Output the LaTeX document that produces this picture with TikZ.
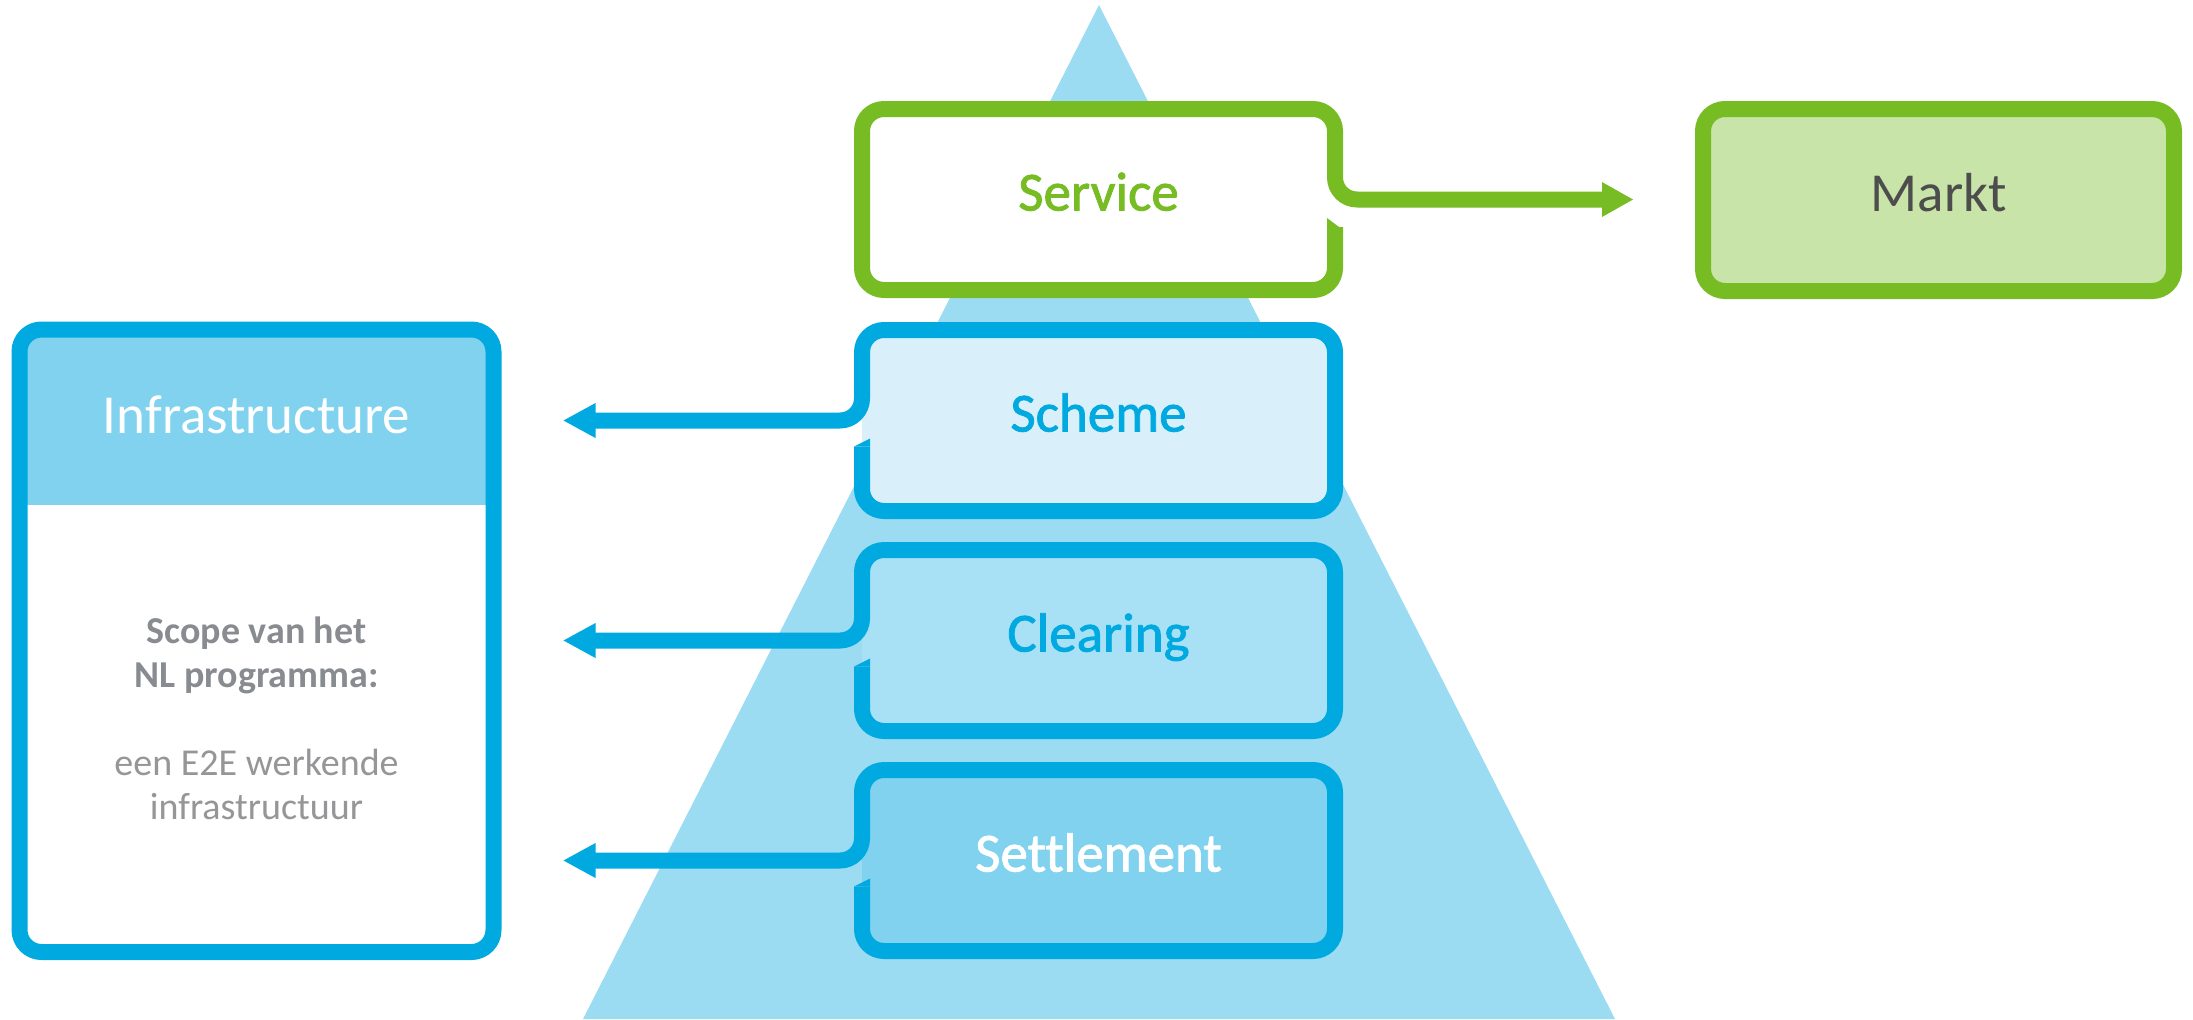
\documentclass[tikz,border=0pt]{standalone}
\usepackage{fontspec}
\setmainfont[Ligatures=NoCommon]{Carlito}
\newfontfamily\labelfont[FakeBold=1.5,Ligatures=NoCommon]{Carlito}
\usetikzlibrary{calc}
\definecolor{cblue}{RGB}{0,169,224}
\definecolor{ctri}{RGB}{156,220,243}
\definecolor{cscheme}{RGB}{217,240,250}
\definecolor{cclear}{RGB}{168,224,245}
\definecolor{csettle}{RGB}{128,210,239}
\definecolor{cgreen}{RGB}{118,188,34}
\definecolor{cmarkt}{RGB}{200,228,168}
\definecolor{cmarkttext}{RGB}{77,77,77}
\definecolor{cgraybold}{RGB}{136,139,144}
\definecolor{cgray}{RGB}{150,150,152}
\begin{document}
\begin{tikzpicture}[x=0.5pt,y=-0.5pt,
  layerbox/.style={minimum width=236.5pt, minimum height=90.5pt, inner sep=0pt, outer sep=0pt,
    rounded corners=11pt, text height=16.5pt, text depth=5.5pt,
    font=\fontsize{27.5}{33}\labelfont},
  bluestroke/.style={draw=cblue, line width=8pt, rounded corners=11pt, line cap=butt, line join=round},
  greenstroke/.style={draw=cgreen, line width=8pt, rounded corners=11pt, line cap=butt, line join=round}]
\useasboundingbox (0,0) rectangle (2193,1019);
% pyramid
\fill[ctri] (583,1019) -- (1099,5) -- (1615,1019) -- cycle;
% layer boxes
\node[layerbox, fill=white, text=cgreen] (service) at (1098.5,199.5) {Service};
\node[layerbox, fill=cscheme, text=cblue] (scheme) at (1098.5,420.5) {Scheme};
\node[layerbox, fill=cclear, text=cblue] (clearing) at (1098.5,640.5) {Clearing};
\node[layerbox, fill=csettle, text=white] (settlement) at (1098.5,860.5) {Settlement};
% markt
\node[layerbox, minimum width=235.5pt, minimum height=91pt, fill=cmarkt, draw=cgreen, line width=8pt,
  text=cmarkttext, font=\fontsize{27.5}{33}\selectfont] (markt) at (1938.5,200) {Markt};
% infrastructure
\node[minimum width=237pt, minimum height=311.25pt, inner sep=0pt, outer sep=0pt, rounded corners=11pt,
  fill=white] (infra) at (256.5,640.75) {};
\begin{scope}
  \clip[rounded corners=11pt] (infra.north west) rectangle (infra.south east);
  \fill[csettle] (infra.north west) rectangle ($(infra.north east)+(0,175)$);
\end{scope}
\draw[bluestroke] (infra.north west) rectangle (infra.south east);
\node[anchor=base, text=white, font=\fontsize{27.5}{33}\selectfont, inner sep=0pt] (infrahead)
  at ($(infra.north)+(0,103.5)$) {Infrastructure};
\node[anchor=base, inner sep=0pt, font=\fontsize{19}{22}\selectfont] (infrabody)
  at ($(infra.north)+(0,313.5)$)
  {\begin{tabular}[t]{@{}c@{}}
   \color{cgraybold}\bfseries Scope van het\\
   \color{cgraybold}\bfseries NL programma:\\
   \\
   \color{cgray}een E2E werkende\\
   \color{cgray}infrastructuur
   \end{tabular}};
% connector end points
\coordinate (serviceTip) at ($(markt.west|-service.east)+(-70,0)$);
\coordinate (schemeTip) at ($(infra.east|-scheme.west)+(70,0)$);
\coordinate (clearingTip) at ($(infra.east|-clearing.west)+(70,0)$);
\coordinate (settlementTip) at ($(infra.east|-settlement.west)+(70,0)$);
% service outline + connector
\draw[greenstroke] ($(service.east)+(0,27.5)$) -- (service.south east) -- (service.south west)
  -- (service.north west) -- (service.north east) -- (service.east) -- ($(serviceTip)+(-29,0)$);
\fill[cgreen] ($(service.east)+(4,27.5)$) -- ($(service.east)+(-8,27.5)$) -- ($(service.east)+(-8,18.5)$) -- cycle;
\fill[cgreen] (serviceTip) -- ($(serviceTip)+(-31,-17.5)$) -- ($(serviceTip)+(-31,17.5)$) -- cycle;
% blue outlines + connectors
\foreach \b/\t in {scheme/schemeTip, clearing/clearingTip, settlement/settlementTip}{
  \draw[bluestroke] ($(\b.west)+(0,26)$) -- (\b.south west) -- (\b.south east)
    -- (\b.north east) -- (\b.north west) -- (\b.west) -- ($(\t)+(30,0)$);
  \fill[cblue] ($(\b.west)+(-8,26)$) -- ($(\b.west)+(8,26)$) -- ($(\b.west)+(8,18)$) -- cycle;
  \fill[cblue] (\t) -- ($(\t)+(32,-17.5)$) -- ($(\t)+(32,17.5)$) -- cycle;
}
\end{tikzpicture}
\end{document}
